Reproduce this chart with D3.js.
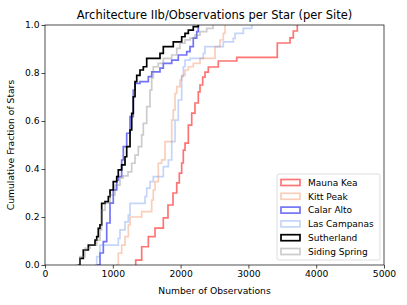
<!DOCTYPE html>
<html>
<head>
<meta charset="utf-8">
<script src="https://cdn.jsdelivr.net/npm/d3@7"></script>
<style>
  body { margin: 0; background: #fff; }
  text { font-family: "DejaVu Sans", sans-serif; }
</style>
</head>
<body>
<div id="chart"></div>
<script>
// cumulative step histograms: x = observations where the curve steps, y = fraction after the step
const sites = ["Mauna Kea", "Kitt Peak", "Calar Alto", "Las Campanas", "Sutherland", "Siding Spring"];

const maunaKeaX = [1338, 1426, 1524, 1623, 1745, 1814, 1888, 1943, 1981, 2016, 2040, 2065, 2114, 2164, 2212, 2261, 2286, 2326, 2360, 2409, 2556, 2828, 3426, 3614, 3662, 3721];
const maunaKeaY = [0.02, 0.076, 0.118, 0.154, 0.196, 0.25, 0.30, 0.342, 0.383, 0.425, 0.479, 0.508, 0.583, 0.633, 0.675, 0.721, 0.75, 0.783, 0.804, 0.825, 0.85, 0.865, 0.925, 0.946, 0.975, 1.0];

const kittPeakX = [1047, 1081, 1131, 1180, 1229, 1254, 1426, 1574, 1597, 1623, 1671, 1721, 1770, 1869, 1892, 1918, 1943, 1991, 2016, 2065, 2114, 2187, 2286, 2508, 2581, 2630, 2655];
const kittPeakY = [0, 0.049, 0.083, 0.118, 0.167, 0.2, 0.222, 0.27, 0.3125, 0.347, 0.424, 0.438, 0.514, 0.604, 0.646, 0.715, 0.743, 0.77, 0.79, 0.8125, 0.826, 0.84, 0.861, 0.91, 0.9375, 0.965, 1.0];

const calarAltoX = [763, 811, 860, 910, 959, 1007, 1058, 1081, 1131, 1155, 1205, 1254, 1302, 1328, 1401, 1524, 1574, 1696, 1745, 1869, 1966, 2090, 2139, 2187, 2238, 2261];
const calarAltoY = [0, 0.05, 0.097, 0.175, 0.258, 0.313, 0.354, 0.368, 0.4375, 0.493, 0.549, 0.618, 0.729, 0.757, 0.764, 0.785, 0.805, 0.82, 0.84, 0.854, 0.875, 0.889, 0.91, 0.945, 0.972, 1.0];

const lasCampanasX = [738, 763, 811, 1081, 1106, 1180, 1229, 1254, 1475, 1500, 1549, 1597, 1745, 1819, 1869, 1918, 1966, 2016, 2040, 2065, 2139, 2335, 2360, 2630, 2777, 2803, 2925, 3049];
const lasCampanasY = [0, 0.035, 0.083, 0.111, 0.146, 0.18, 0.208, 0.257, 0.285, 0.32, 0.347, 0.368, 0.41, 0.4375, 0.514, 0.604, 0.6875, 0.785, 0.826, 0.854, 0.861, 0.882, 0.91, 0.93, 0.944, 0.965, 0.986, 1.0];

const sutherlandX = [491, 516, 565, 639, 738, 763, 786, 811, 836, 885, 934, 959, 1007, 1058, 1081, 1131, 1180, 1205, 1254, 1279, 1302, 1328, 1353, 1401, 1450, 1500, 1696, 1745, 1892, 2016, 2065, 2114, 2187, 2261];
const sutherlandY = [0, 0.028, 0.0625, 0.083, 0.104, 0.118, 0.153, 0.167, 0.257, 0.264, 0.285, 0.3125, 0.347, 0.368, 0.396, 0.417, 0.451, 0.493, 0.5625, 0.632, 0.701, 0.764, 0.79, 0.8125, 0.826, 0.861, 0.882, 0.91, 0.93, 0.951, 0.965, 0.979, 0.993, 1.0];

const sidingSpringX = [457, 516, 590, 664, 763, 811, 836, 885, 959, 1033, 1106, 1155, 1224, 1279, 1328, 1376, 1426, 1450, 1500, 1549, 1574, 1597, 1671, 1745, 1869, 1943, 1991, 2065, 2139, 2212, 2286, 2385, 2478];
const sidingSpringY = [0, 0.035, 0.069, 0.083, 0.104, 0.146, 0.229, 0.258, 0.292, 0.333, 0.363, 0.371, 0.388, 0.424, 0.458, 0.493, 0.542, 0.59, 0.66, 0.729, 0.78, 0.826, 0.84, 0.861, 0.875, 0.903, 0.924, 0.938, 0.945, 0.958, 0.972, 0.986, 1.0];

const xTicks = [0, 1000, 2000, 3000, 4000, 5000];
const yTicks = [0, 0.2, 0.4, 0.6, 0.8, 1.0];

const series = [
  {name: sites[0], x: maunaKeaX, y: maunaKeaY, color: "#ff0000", op: 0.55},
  {name: sites[1], x: kittPeakX, y: kittPeakY, color: "#f4a582", op: 0.55},
  {name: sites[2], x: calarAltoX, y: calarAltoY, color: "#0000ee", op: 0.55},
  {name: sites[3], x: lasCampanasX, y: lasCampanasY, color: "#6c96f0", op: 0.4},
  {name: sites[4], x: sutherlandX, y: sutherlandY, color: "#000000", op: 1},
  {name: sites[5], x: sidingSpringX, y: sidingSpringY, color: "#808080", op: 0.4}
];

const width = 407, height = 305;
const margin = {top: 25, right: 23, bottom: 40, left: 45};
const fs = 9.2;

const svg = d3.select("#chart")
  .append("svg")
  .attr("width", width)
  .attr("height", height);

const x = d3.scaleLinear()
  .domain([0, 5000])
  .range([margin.left, width - margin.right]);

const y = d3.scaleLinear()
  .domain([0, 1])
  .range([height - margin.bottom, margin.top]);

// clip to the axes box
svg.append("clipPath").attr("id", "clip")
  .append("rect")
  .attr("x", margin.left).attr("y", margin.top)
  .attr("width", x(5000) - x(0)).attr("height", y(0) - y(1));

const line = d3.line()
  .x(d => x(d[0]))
  .y(d => y(d[1]))
  .curve(d3.curveStepAfter);

svg.append("g")
  .attr("clip-path", "url(#clip)")
  .selectAll("path")
  .data(series)
  .join("path")
  .attr("d", s => {
    const pts = [[s.x[0], 0]].concat(s.x.map((v, i) => [v, s.y[i]]));
    return line(pts);
  })
  .attr("fill", "none")
  .attr("stroke", s => s.color)
  .attr("stroke-opacity", s => s.op)
  .attr("stroke-width", 1.7);

// axes
const xAxis = svg.append("g")
  .attr("transform", `translate(0,${y(0)})`)
  .call(d3.axisBottom(x).tickValues(xTicks).tickFormat(d3.format("d")).tickSize(3.5).tickPadding(2));

const yAxis = svg.append("g")
  .attr("transform", `translate(${x(0)},0)`)
  .call(d3.axisLeft(y).tickValues(yTicks).tickFormat(d3.format(".1f")).tickSize(3.5).tickPadding(2));

[xAxis, yAxis].forEach(a => {
  a.select(".domain").remove();
  a.selectAll("text").attr("font-size", fs).attr("fill", "#000").style("font-family", "DejaVu Sans");
  a.selectAll("line").attr("stroke", "#000").attr("stroke-width", 0.7);
});

// frame
svg.append("rect")
  .attr("x", x(0)).attr("y", y(1))
  .attr("width", x(5000) - x(0)).attr("height", y(0) - y(1))
  .attr("fill", "none")
  .attr("stroke", "#000")
  .attr("stroke-width", 0.7);

// titles
svg.append("text")
  .attr("x", (x(0) + x(5000)) / 2)
  .attr("y", 19)
  .attr("text-anchor", "middle")
  .attr("font-size", 11.5)
  .text("Architecture IIb/Observations per Star (per Site)");

svg.append("text")
  .attr("x", (x(0) + x(5000)) / 2)
  .attr("y", 294)
  .attr("text-anchor", "middle")
  .attr("font-size", fs)
  .text("Number of Observations");

svg.append("text")
  .attr("transform", `translate(14,${(y(0) + y(1)) / 2}) rotate(-90)`)
  .attr("text-anchor", "middle")
  .attr("font-size", fs)
  .text("Cumulative Fraction of Stars");

// legend
const legend = svg.append("g").attr("transform", "translate(277,174)");

legend.append("rect")
  .attr("width", 103).attr("height", 86)
  .attr("rx", 2)
  .attr("fill", "#fff").attr("fill-opacity", 0.8)
  .attr("stroke", "#d0d0d0").attr("stroke-width", 0.7);

const item = legend.selectAll("g.item")
  .data(series)
  .join("g")
  .attr("class", "item")
  .attr("transform", (d, i) => `translate(0,${8.5 + i * 13.8})`);

item.append("rect")
  .attr("x", 4).attr("y", -3)
  .attr("width", 19).attr("height", 6)
  .attr("fill", "none")
  .attr("stroke", d => d.color)
  .attr("stroke-opacity", d => d.op)
  .attr("stroke-width", 1.7);

item.append("text")
  .attr("x", 31)
  .attr("y", 3.3)
  .attr("font-size", 9)
  .text(d => d.name);
</script>
</body>
</html>
